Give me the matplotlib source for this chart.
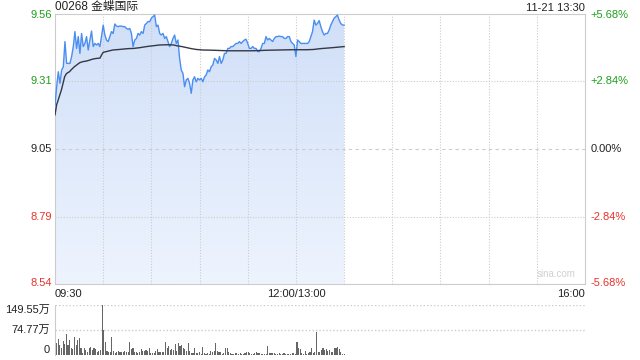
import matplotlib
matplotlib.use("Agg")
import matplotlib.pyplot as plt
import numpy as np
from matplotlib.colors import LinearSegmentedColormap

plt.rcParams["font.family"] = ["Liberation Sans", "Noto Sans CJK SC", "DejaVu Sans"]

# --- data ------------------------------------------------------------------
title = "00268 金蝶国际"
stamp = "11-21 13:30"
prev_close = 9.05
price_ticks = [9.56, 9.31, 9.05, 8.79, 8.54]
pct_labels = ["+5.68%", "+2.84%", "0.00%", "-2.84%", "-5.68%"]
vol_ticks = [0, 74.77, 149.55]
vol_labels = ["0", "74.77万", "149.55万"]
time_labels = ["09:30", "12:00/13:00", "16:00"]
session_minutes = 330  # 09:30-12:00 + 13:00-16:00

price = [
    9.218, 9.287, 9.344, 9.300, 9.351, 9.363, 9.459, 9.376, 9.376, 9.376,
    9.402, 9.440, 9.497, 9.433, 9.478, 9.414, 9.490, 9.440, 9.452, 9.478,
    9.427, 9.465, 9.499, 9.440, 9.452, 9.446, 9.452, 9.440, 9.478, 9.522,
    9.484, 9.465, 9.459, 9.478, 9.497, 9.490, 9.526, 9.518, 9.516, 9.518,
    9.518, 9.516, 9.516, 9.509, 9.506, 9.509, 9.490, 9.440, 9.465, 9.471,
    9.490, 9.484, 9.497, 9.490, 9.522, 9.528, 9.535, 9.535, 9.548, 9.554,
    9.560, 9.516, 9.522, 9.490, 9.484, 9.490, 9.471, 9.478, 9.459, 9.440,
    9.452, 9.471, 9.484, 9.452, 9.465, 9.395, 9.351, 9.338, 9.287, 9.313,
    9.319, 9.300, 9.262, 9.313, 9.325, 9.306, 9.319, 9.313, 9.319, 9.306,
    9.325, 9.332, 9.351, 9.344, 9.363, 9.370, 9.395, 9.389, 9.376, 9.402,
    9.376, 9.389, 9.414, 9.414, 9.433, 9.433, 9.440, 9.440, 9.446, 9.452,
    9.452, 9.459, 9.452, 9.459, 9.465, 9.468, 9.452, 9.433, 9.433, 9.440,
    9.433, 9.433, 9.421, 9.421, 9.433, 9.452, 9.452, 9.478, 9.465, 9.471,
    9.465, 9.459, 9.471, 9.478, 9.478, 9.480, 9.478, 9.478, 9.471, 9.471,
    9.478, 9.478, 9.459, 9.452, 9.446, 9.402, 9.465, 9.459, 9.452, 9.452,
    9.452, 9.452, 9.452, 9.459, 9.478, 9.497, 9.541, 9.522, 9.528, 9.539,
    9.516, 9.497, 9.484, 9.490, 9.490, 9.503, 9.522, 9.535, 9.548, 9.554,
    9.560, 9.541, 9.528, 9.522, 9.522,
]

avg_min = [0, 1, 2, 3, 4, 5, 6, 7, 8, 9, 10, 11, 12, 13.5, 15.5, 17.6, 19.7,
           21.8, 23.9, 26, 28, 29, 30, 32, 36, 40, 45, 49, 53, 57, 61, 65, 70,
           74, 76, 79, 82, 85, 88, 92, 99, 107, 115, 123, 132, 140, 148, 157,
           161, 165, 173, 180]
avg_price = [9.180, 9.218, 9.237, 9.256, 9.275, 9.300, 9.325, 9.336, 9.341,
             9.344, 9.351, 9.357, 9.363, 9.370, 9.379, 9.383, 9.385, 9.389,
             9.393, 9.395, 9.396, 9.408, 9.418, 9.421, 9.427, 9.429, 9.432,
             9.433, 9.436, 9.440, 9.443, 9.446, 9.447, 9.446, 9.443, 9.440,
             9.436, 9.432, 9.429, 9.427, 9.426, 9.424, 9.424, 9.424, 9.426,
             9.427, 9.428, 9.428, 9.429, 9.432, 9.436, 9.440]

# volume in 万 shares per minute
volume = [
    35, 35, 47, 30, 20, 42, 32, 62, 30, 45, 22, 18, 53, 30, 45, 50, 22, 5,
    22, 15, 10, 20, 25, 15, 20, 17, 8, 12, 15, 149.55, 75, 40, 13, 8, 8, 55,
    13, 6, 10, 13, 8, 9, 8, 13, 8, 10, 40, 18, 20, 8, 8, 7, 8, 17, 13, 12,
    15, 13, 20, 5, 7, 7, 12, 17, 10, 8, 10, 8, 40, 22, 27, 15, 17, 14, 32,
    12, 37, 28, 30, 20, 18, 12, 35, 12, 7, 5, 22, 7, 5, 8, 4, 25,
    5, 3, 7, 4, 13, 10, 13, 35, 12, 8, 10, 3, 5, 22, 22, 8, 5, 3, 4, 5, 5,
    2, 5, 3, 4, 5, 8, 10, 5, 3, 4, 5, 8, 7, 5, 3, 4, 3, 4, 28, 7, 7, 5, 7,
    3, 4, 5, 4, 3, 5, 3, 4, 3, 4, 7, 5, 3, 40, 22, 17, 5, 3, 13, 3, 5, 10,
    22, 7, 8, 68, 10, 8, 15, 22, 15, 17, 13, 15, 10, 10, 22, 20, 23, 17, 8,
    3, 2,
]

# --- styling ---------------------------------------------------------------
GRID = "#cccccc"
GREEN = "#1aa01a"
RED = "#e8322c"
LINE = "#4a8ef2"
FS = 8

fig = plt.figure(figsize=(6.4, 3.6), dpi=100)
ax = fig.add_axes([55 / 640, 76 / 360, 530 / 640, 270 / 360])
axv = fig.add_axes([55 / 640, 5 / 360, 530 / 640, 50 / 360])

ymax = prev_close * 1.0568
ymin = prev_close * 0.9432
t = np.linspace(0, 180, len(price))

# gradient fill under the price line
poly = ax.fill_between(t, price, ymin, color="none")
cmap = LinearSegmentedColormap.from_list("fill", ["#eef4fe", "#d0dff8"])
grad = np.linspace(0, 1, 256).reshape(-1, 1)
img = ax.imshow(grad, extent=[0, session_minutes, ymin, ymax], origin="lower",
                aspect="auto", cmap=cmap, zorder=1)
img.set_clip_path(poly.get_paths()[0], transform=ax.transData)

ax.plot(t, price, color=LINE, linewidth=1.0, zorder=3)
ax.plot(avg_min, avg_price, color="#333844", linewidth=1.0, zorder=3)

ax.set_xlim(0, session_minutes)
ax.set_ylim(ymin, ymax)
# grid drawn above the fill, below the lines
for m in range(30, session_minutes, 30):
    ax.axvline(m, color=GRID, linewidth=0.8, linestyle=(0, (1, 1.5)), zorder=2)
for p in price_ticks[1:-1]:
    ls = (0, (3, 3)) if p == prev_close else (0, (1, 1.5))
    ax.axhline(p, color=GRID, linewidth=0.8, linestyle=ls, zorder=2)
for s in ax.spines.values():
    s.set_color(GRID)
ax.set_xticks([])
ax.set_yticks([])

# side labels
colors = [GREEN, GREEN, "#222222", RED, RED]
for p, lab, c in zip(price_ticks, pct_labels, colors):
    ax.text(-0.006, p, f"{p:.2f}", transform=ax.get_yaxis_transform(),
            ha="right", va="center", color=c, fontsize=FS)
    ax.text(1.01, p, lab, transform=ax.get_yaxis_transform(),
            ha="left", va="center", color=c, fontsize=FS)

ax.text(0, 1.005, title, transform=ax.transAxes, ha="left", va="bottom",
        fontsize=FS + 0.5, color="#222222")
ax.text(1, 1.005, stamp, transform=ax.transAxes, ha="right", va="bottom",
        fontsize=FS, color="#222222")
ax.text(0.945, 0.02, "sina.com", transform=ax.transAxes, ha="center",
        va="bottom", fontsize=7, color="#d0d0d0")

# time labels under main panel
ax.text(0, -0.02, time_labels[0], transform=ax.transAxes, ha="left",
        va="top", fontsize=FS, color="#222222")
ax.text(150 / session_minutes, -0.02, time_labels[1], transform=ax.transAxes,
        ha="center", va="top", fontsize=FS, color="#222222")
ax.text(1, -0.02, time_labels[2], transform=ax.transAxes, ha="right",
        va="top", fontsize=FS, color="#222222")

# volume panel
tv = np.linspace(0, 180, len(volume))
axv.bar(tv, volume, width=0.7, color="#666666", linewidth=0)
axv.set_xlim(0, session_minutes)
axv.set_ylim(0, vol_ticks[-1])
for v in vol_ticks[1:]:
    axv.axhline(v, color=GRID, linewidth=1.0, linestyle=(0, (1, 1.5)), zorder=0)
for k in ["top", "right", "bottom"]:
    axv.spines[k].set_visible(False)
axv.spines["left"].set_color(GRID)
axv.set_xticks([])
axv.set_yticks([])
vas = ["bottom", "center", "top"]
for v, lab, va in zip(vol_ticks, vol_labels, vas):
    axv.text(-0.01, v, lab, transform=axv.get_yaxis_transform(), ha="right",
             va=va, fontsize=FS, color="#222222")

fig.savefig("out.png", dpi=100)
